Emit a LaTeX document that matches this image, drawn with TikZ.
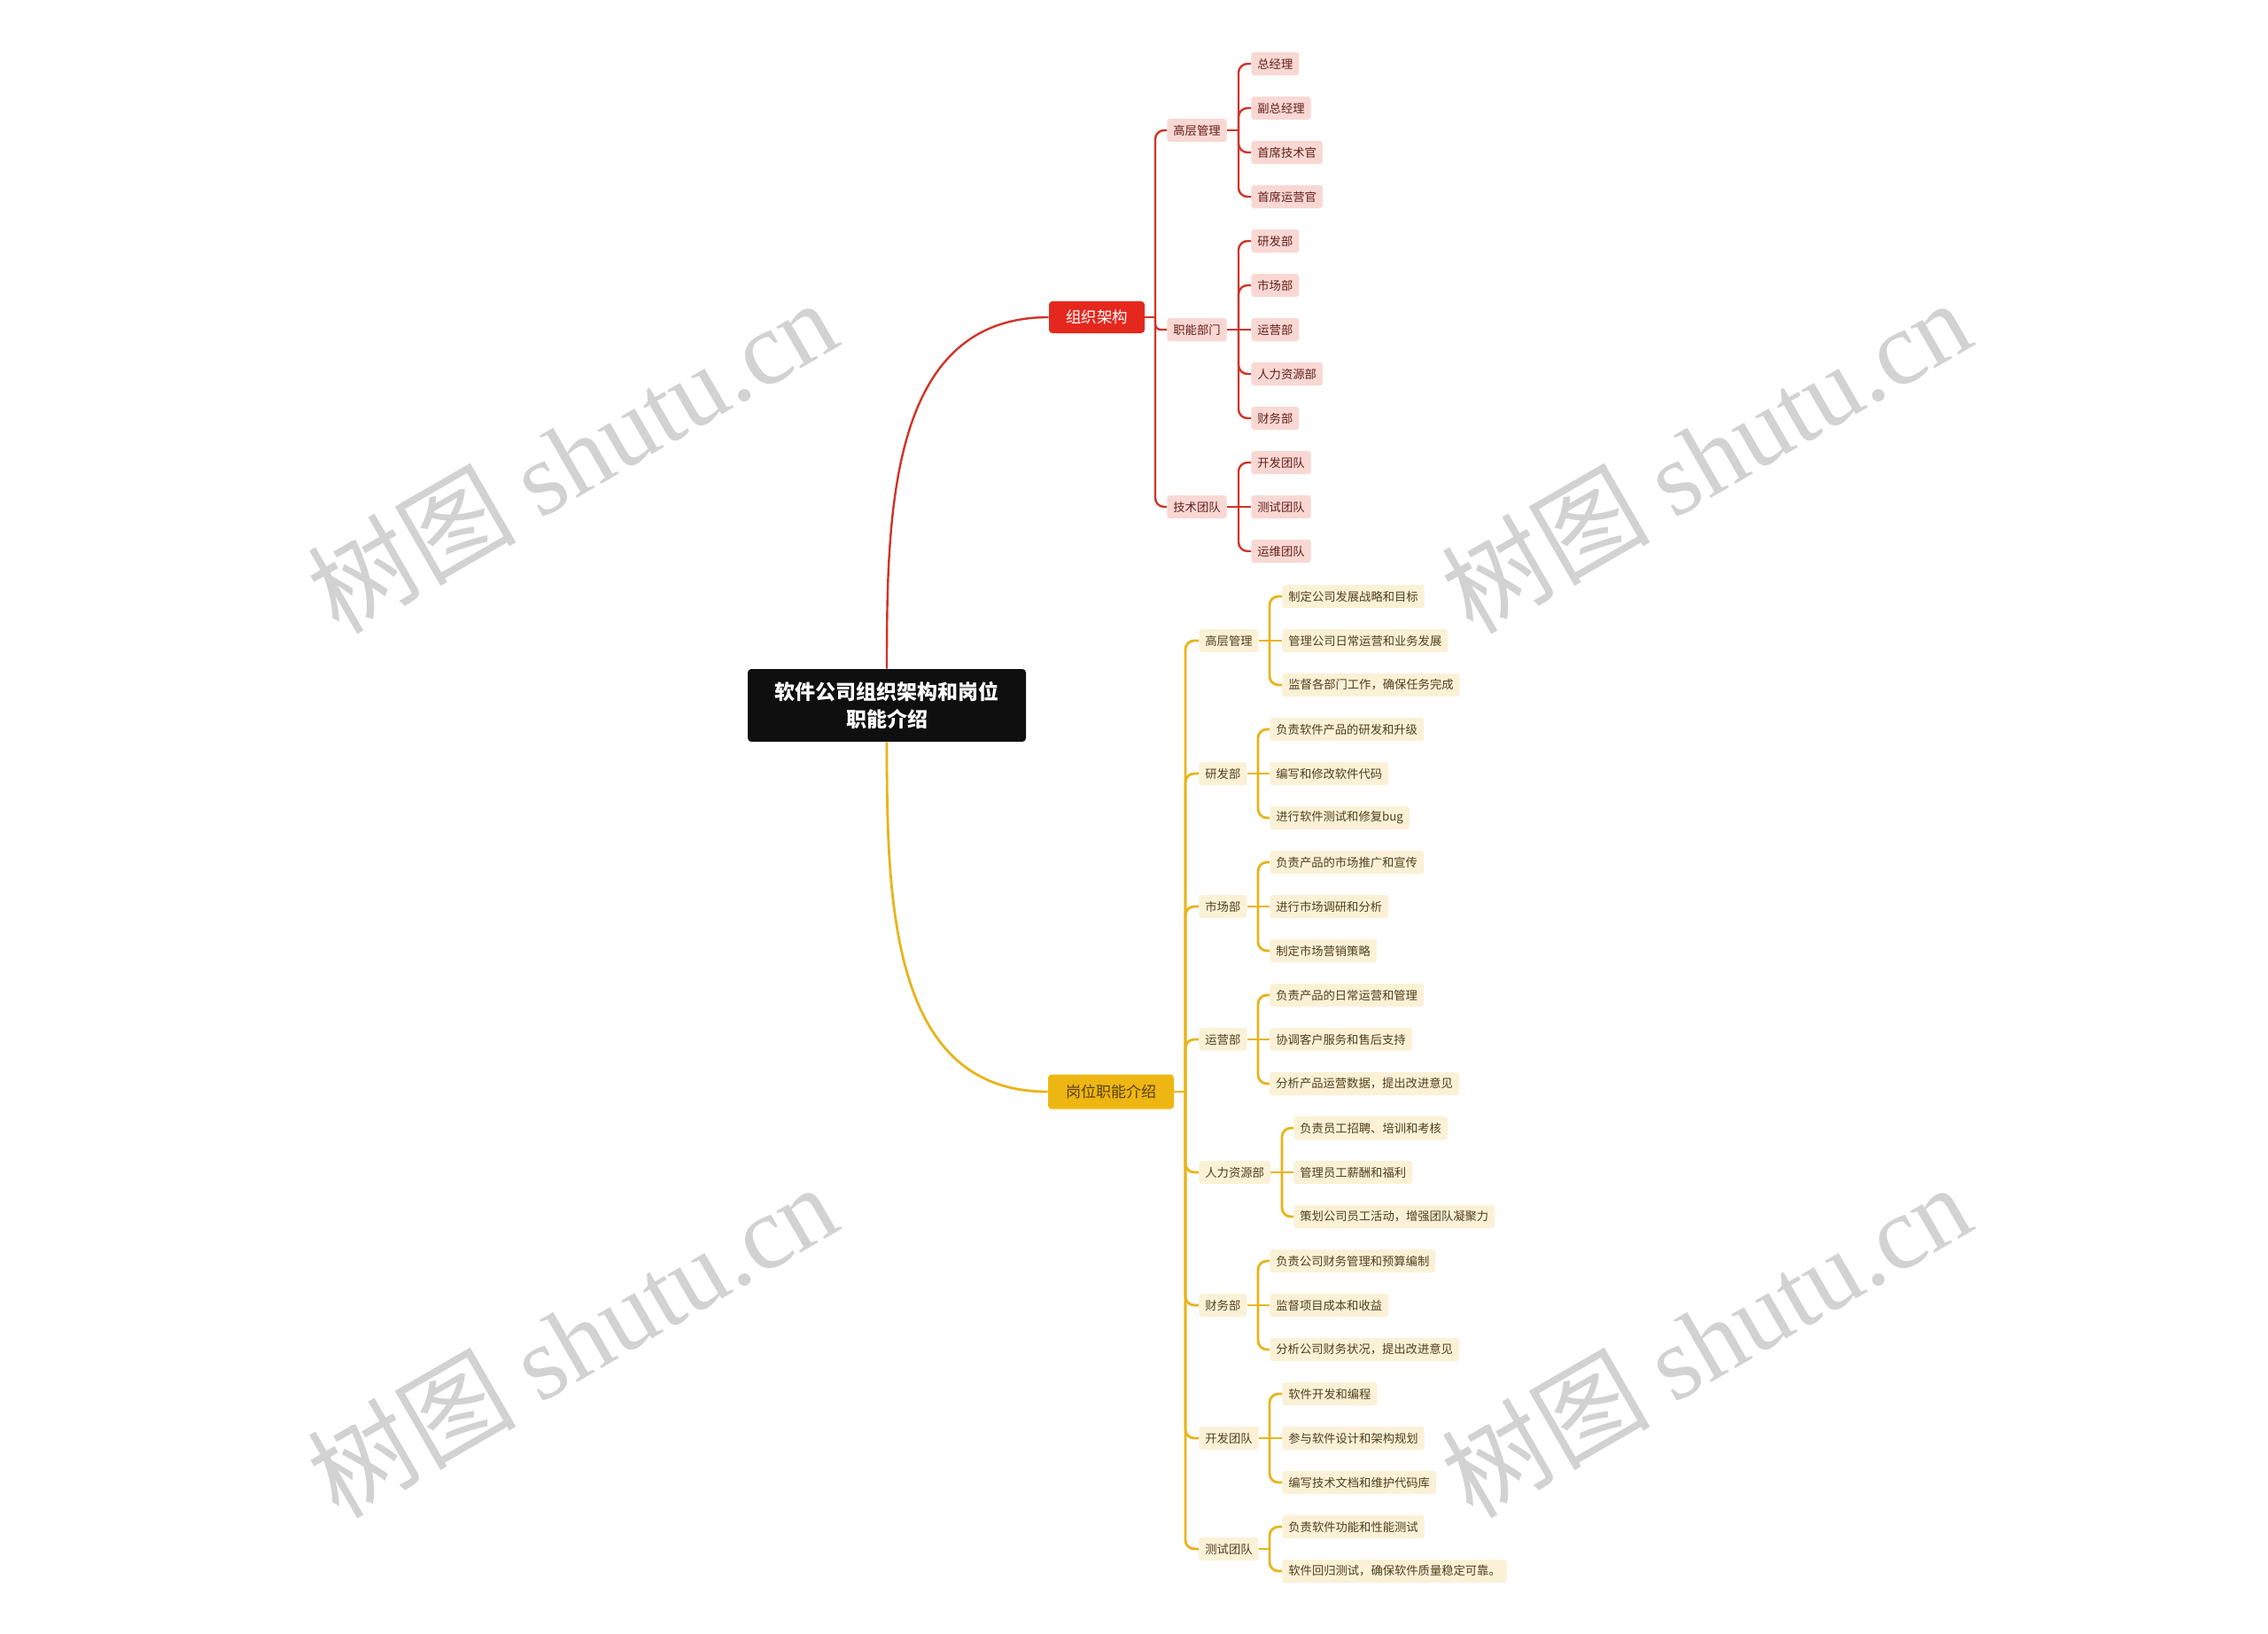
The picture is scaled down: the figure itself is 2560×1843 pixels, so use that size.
\documentclass[tikz,border=0pt]{standalone}
\usepackage{fontspec}
\setmainfont{Noto Sans CJK SC}
\newfontfamily\wmserif{Liberation Serif}
\definecolor{redline}{RGB}{208,52,40}
\definecolor{redfill}{RGB}{229,40,30}
\definecolor{pinkfill}{RGB}{249,216,212}
\definecolor{pinktext}{RGB}{100,30,24}
\definecolor{goldline}{RGB}{232,180,28}
\definecolor{goldfill}{RGB}{238,182,18}
\definecolor{goldtext}{RGB}{90,62,10}
\definecolor{creamfill}{RGB}{251,241,214}
\definecolor{creamtext}{RGB}{80,64,30}
\definecolor{wmgray}{RGB}{210,210,210}
\begin{document}
\begin{tikzpicture}[x=0.5pt,y=-0.5pt,
  rootbox/.style={fill=black!94, rounded corners=2pt, text=white, align=center,
    font=\fontsize{11.5}{15.5}\selectfont\bfseries, minimum width=157pt, minimum height=41pt, inner sep=0pt},
  redmain/.style={fill=redfill, rounded corners=2pt, text=white,
    font=\fontsize{8.75}{10}\selectfont, minimum width=54pt, minimum height=18pt, inner sep=0pt},
  goldmain/.style={fill=goldfill, rounded corners=2pt, text=goldtext,
    font=\fontsize{8.5}{10}\selectfont, minimum width=71pt, minimum height=19.5pt, inner sep=0pt},
  redleaf/.style={fill=pinkfill, text=pinktext, rounded corners=1.5pt, anchor=west,
    font=\fontsize{6.65}{8}\selectfont, inner xsep=3.5pt, inner ysep=0pt, minimum height=13pt},
  goldleaf/.style={fill=creamfill, text=creamtext, rounded corners=1.5pt, anchor=west,
    font=\fontsize{6.65}{8}\selectfont, inner xsep=3.5pt, inner ysep=0pt, minimum height=13pt},
  redlink/.style={draw=redline, line width=1.2pt},
  goldlink/.style={draw=goldline, line width=1.4pt},
  rc/.style={rounded corners=5pt},
  wmark/.style={rotate=30, text=wmgray, font=\fontsize{59}{64}\selectfont, inner sep=0pt}
]
\path[use as bounding box, fill=white] (0,0) rectangle (2560,1843);

% watermarks
\node[wmark] (wm1) at (645,514) {树图 {\wmserif shutu.cn}};
\node[wmark] (wm2) at (1925,514) {树图 {\wmserif shutu.cn}};
\node[wmark] (wm3) at (645,1512) {树图 {\wmserif shutu.cn}};
\node[wmark] (wm4) at (1925,1512) {树图 {\wmserif shutu.cn}};

% main nodes
\node[rootbox] (root) at (1001,796) {软件公司组织架构和岗位\\职能介绍};
\node[redmain] (org) at (1238,358) {组织架构};
\node[goldmain] (job) at (1254,1232) {岗位职能介绍};

\draw[redlink] (root.north) to[out=90,in=180,looseness=1.05] (org.west);
\draw[goldlink] (root.south) to[out=-90,in=180,looseness=1.05] (job.west);

% ---------- red branch ----------
\node[redleaf] (rA) at (1317,147) {高层管理};
\node[redleaf] (rB) at (1317,372) {职能部门};
\node[redleaf] (rC) at (1317,572) {技术团队};
\coordinate (rt) at (1304,358);
\draw[redlink] (org.east) -- (rt);
\draw[redlink,rc] (rt) -- (rt |- rA.west) -- (rA.west);
\draw[redlink,rounded corners=3pt] (rt) -- (rt |- rB.west) -- (rB.west);
\draw[redlink,rc] (rt) -- (rt |- rC.west) -- (rC.west);

\node[redleaf] (r0) at (1412,72) {总经理};
\node[redleaf] (r1) at (1412,122) {副总经理};
\node[redleaf] (r2) at (1412,172) {首席技术官};
\node[redleaf] (r3) at (1412,222) {首席运营官};
\node[redleaf] (r4) at (1412,272) {研发部};
\node[redleaf] (r5) at (1412,322) {市场部};
\node[redleaf] (r6) at (1412,372) {运营部};
\node[redleaf] (r7) at (1412,422) {人力资源部};
\node[redleaf] (r8) at (1412,472) {财务部};
\node[redleaf] (r9) at (1412,522) {开发团队};
\node[redleaf] (r10) at (1412,572) {测试团队};
\node[redleaf] (r11) at (1412,622) {运维团队};

\coordinate (rAb) at (1398,147);
\coordinate (rBb) at (1398,372);
\coordinate (rCb) at (1398,572);
\draw[redlink] (rA.east) -- (rAb);
\draw[redlink] (rB.east) -- (rBb);
\draw[redlink] (rC.east) -- (rCb);
\foreach \n in {r0,r1,r2,r3} \draw[redlink,rc] (rAb) -- (rAb |- \n.west) -- (\n.west);
\foreach \n in {r4,r5,r7,r8} \draw[redlink,rc] (rBb) -- (rBb |- \n.west) -- (\n.west);
\draw[redlink] (rBb) -- (r6.west);
\foreach \n in {r9,r11} \draw[redlink,rc] (rCb) -- (rCb |- \n.west) -- (\n.west);
\draw[redlink] (rCb) -- (r10.west);

% ---------- gold branch ----------
\node[goldleaf] (yA) at (1353,723) {高层管理};
\node[goldleaf] (yB) at (1353,873) {研发部};
\node[goldleaf] (yC) at (1353,1023) {市场部};
\node[goldleaf] (yD) at (1353,1173) {运营部};
\node[goldleaf] (yE) at (1353,1323) {人力资源部};
\node[goldleaf] (yF) at (1353,1473) {财务部};
\node[goldleaf] (yG) at (1353,1623) {开发团队};
\node[goldleaf] (yH) at (1353,1748) {测试团队};
\coordinate (yt) at (1338,1232);
\draw[goldlink] (job.east) -- (yt);
\foreach \n in {yA,yB,yC,yD,yE,yF,yG,yH} \draw[goldlink,rc] (yt) -- (yt |- \n.west) -- (\n.west);

% leaves
\node[goldleaf] (y0) at (1447,673) {制定公司发展战略和目标};
\node[goldleaf] (y1) at (1447,723) {管理公司日常运营和业务发展};
\node[goldleaf] (y2) at (1447,773) {监督各部门工作，确保任务完成};
\node[goldleaf] (y3) at (1433,823) {负责软件产品的研发和升级};
\node[goldleaf] (y4) at (1433,873) {编写和修改软件代码};
\node[goldleaf] (y5) at (1433,923) {进行软件测试和修复bug};
\node[goldleaf] (y6) at (1433,973) {负责产品的市场推广和宣传};
\node[goldleaf] (y7) at (1433,1023) {进行市场调研和分析};
\node[goldleaf] (y8) at (1433,1073) {制定市场营销策略};
\node[goldleaf] (y9) at (1433,1123) {负责产品的日常运营和管理};
\node[goldleaf] (y10) at (1433,1173) {协调客户服务和售后支持};
\node[goldleaf] (y11) at (1433,1223) {分析产品运营数据，提出改进意见};
\node[goldleaf] (y12) at (1460,1273) {负责员工招聘、培训和考核};
\node[goldleaf] (y13) at (1460,1323) {管理员工薪酬和福利};
\node[goldleaf] (y14) at (1460,1373) {策划公司员工活动，增强团队凝聚力};
\node[goldleaf] (y15) at (1433,1423) {负责公司财务管理和预算编制};
\node[goldleaf] (y16) at (1433,1473) {监督项目成本和收益};
\node[goldleaf] (y17) at (1433,1523) {分析公司财务状况，提出改进意见};
\node[goldleaf] (y18) at (1447,1573) {软件开发和编程};
\node[goldleaf] (y19) at (1447,1623) {参与软件设计和架构规划};
\node[goldleaf] (y20) at (1447,1673) {编写技术文档和维护代码库};
\node[goldleaf] (y21) at (1447,1723) {负责软件功能和性能测试};
\node[goldleaf] (y22) at (1447,1773) {软件回归测试，确保软件质量稳定可靠。};

\coordinate (yAb) at (1433,723);
\coordinate (yBb) at (1420,873);
\coordinate (yCb) at (1420,1023);
\coordinate (yDb) at (1420,1173);
\coordinate (yEb) at (1447,1323);
\coordinate (yFb) at (1420,1473);
\coordinate (yGb) at (1433,1623);
\coordinate (yHb) at (1433,1748);
\foreach \p in {yA,yB,yC,yD,yE,yF,yG,yH} \draw[goldlink] (\p.east) -- (\p b);

\foreach \p/\a/\m/\b in {yA/y0/y1/y2, yB/y3/y4/y5, yC/y6/y7/y8, yD/y9/y10/y11, yE/y12/y13/y14, yF/y15/y16/y17, yG/y18/y19/y20} {
  \draw[goldlink,rc] (\p b) -- (\p b |- \a.west) -- (\a.west);
  \draw[goldlink] (\p b) -- (\m.west);
  \draw[goldlink,rc] (\p b) -- (\p b |- \b.west) -- (\b.west);
}
\draw[goldlink,rc] (yHb) -- (yHb |- y21.west) -- (y21.west);
\draw[goldlink,rc] (yHb) -- (yHb |- y22.west) -- (y22.west);
\end{tikzpicture}
\end{document}
